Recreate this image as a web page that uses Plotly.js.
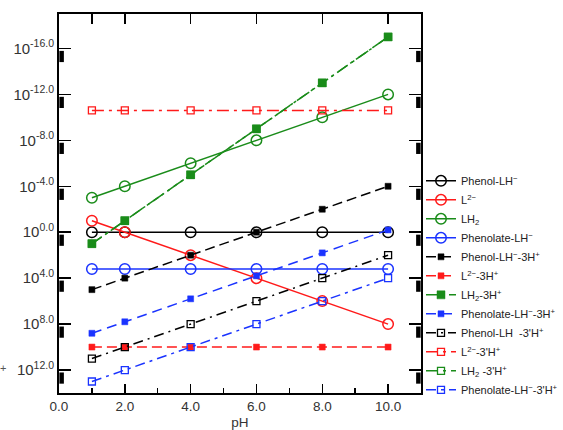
<!DOCTYPE html>
<html>
<head>
<meta charset="utf-8">
<script src="https://cdn.plot.ly/plotly-3.0.1.min.js"></script>
<style>html,body{margin:0;padding:0;background:#fff;}#chart{width:563px;height:430px;}</style>
</head>
<body>
<div id="chart"></div>
<script>
// ---- data (y values are exponents, axis reversed) ----
const pH = [1, 2, 4, 6, 8, 10];
const phenolLH        = [0, 0, 0, 0, 0, 0];
const L2              = [-1, 0, 2, 4, 6, 8];
const LH2             = [-3, -4, -6, -8, -10, -12];
const phenolateLH     = [3.2, 3.2, 3.2, 3.2, 3.2, 3.2];
const phenolLH_3H     = [5, 4, 2, 0, -2, -4];
const L2_3H           = [10, 10, 10, 10, 10, 10];
const LH2_3H          = [1, -1, -5, -9, -13, -17];
const phenolateLH_3H  = [8.8, 7.8, 5.8, 3.8, 1.8, -0.2];
const phenolLH_3pH    = [11, 10, 8, 6, 4, 2];
const L2_3pH          = [-10.6, -10.6, -10.6, -10.6, -10.6, -10.6];
const LH2_3pH         = [1, -1, -5, -9, -13, -17];
const phenolateLH_3pH = [13, 12, 10, 8, 6, 4];

const names = [
  'Phenol-LH<sup>−</sup>', 'L<sup>2−</sup>', 'LH<sub>2</sub>', 'Phenolate-LH<sup>−</sup>',
  'Phenol-LH<sup>−</sup>-3H<sup>+</sup>', 'L<sup>2−</sup>-3H<sup>+</sup>', 'LH<sub>2</sub>-3H<sup>+</sup>', 'Phenolate-LH<sup>−</sup>-3H<sup>+</sup>',
  'Phenol-LH  -3\'H<sup>+</sup>', 'L<sup>2−</sup>-3\'H<sup>+</sup>', 'LH<sub>2</sub> -3\'H<sup>+</sup>', 'Phenolate-LH<sup>−</sup>-3\'H<sup>+</sup>'
];

const xTickVals = [0, 2, 4, 6, 8, 10];
const xTickText = ['0.0', '2.0', '4.0', '6.0', '8.0', '10.0'];
const xTopTickVals = [1, 2, 4, 6, 8, 10];
const yTickVals = [-16, -12, -8, -4, 0, 4, 8, 12];
const yTickText = ['10<sup>-16.0</sup>', '10<sup>-12.0</sup>', '10<sup>-8.0</sup>', '10<sup>-4.0</sup>',
                   '10<sup>0.0</sup>', '10<sup>4.0</sup>', '10<sup>8.0</sup>', '10<sup>12.0</sup>'];
const edgeX = [0.08, 10.92];

// ---- styles ----
const BLACK = '#000000', RED = '#ff1a1a', GREEN = '#1a8c1a', BLUE = '#1a33ff';

function tr(y, name, color, symbol, size, dash, group, lw) {
  return {
    x: pH, y: y, name: name, type: 'scatter', mode: 'lines+markers',
    legendgroup: group,
    line: {color: color, width: 1.5, dash: dash},
    marker: {color: color, symbol: symbol, size: size, line: {color: color, width: lw || 1.5}},
    cliponaxis: false
  };
}

const traces = [
  tr(phenolLH,        names[0],  BLACK, 'circle-open', 10.5, 'solid', 'a'),
  tr(L2,              names[1],  RED,   'circle-open', 10.5, 'solid', 'a'),
  tr(LH2,             names[2],  GREEN, 'circle-open', 10.5, 'solid', 'a'),
  tr(phenolateLH,     names[3],  BLUE,  'circle-open', 10.5, 'solid', 'a'),
  tr(phenolLH_3H,     names[4],  BLACK, 'square', 6, '10px,5px', 'b', 0.5),
  tr(L2_3H,           names[5],  RED,   'square', 6, '10px,5px', 'b', 0.5),
  tr(LH2_3H,          names[6],  GREEN, 'square', 8, '12px,4px,3px,4px', 'b', 0.5),
  tr(phenolateLH_3H,  names[7],  BLUE,  'square', 6, '10px,6px', 'b', 0.5),
  tr(phenolLH_3pH,    names[8],  BLACK, 'square-open', 7, '10px,5px,2px,5px', 'c', 1.3),
  tr(L2_3pH,          names[9],  RED,   'square-open', 7, '12px,5px,3px,5px', 'c', 1.3),
  tr(LH2_3pH,         names[10], GREEN, 'square-open', 7, '12px,5px,3px,5px', 'c', 1.3),
  tr(phenolateLH_3pH, names[11], BLUE,  'square-open', 7, '10px,5px,3px,5px', 'c', 1.3)
];

// small black marks just below each y tick, on both frame edges
const edgeMarkX = [], edgeMarkY = [];
edgeX.forEach(function (ex) {
  yTickVals.forEach(function (v) { edgeMarkX.push(ex); edgeMarkY.push(v + 0.7); });
});
traces.push({
  x: edgeMarkX, y: edgeMarkY, xaxis: 'x2', yaxis: 'y', type: 'scatter', mode: 'markers',
  showlegend: false, hoverinfo: 'skip', cliponaxis: false,
  marker: {symbol: 'line-ns', size: 8, color: BLACK, line: {color: BLACK, width: 4.5}}
});

const FONT = 'Liberation Sans, Arial, sans-serif';
const layout = {
  width: 563, height: 430,
  margin: {l: 59, r: 142, t: 14, b: 37, pad: 0, autoexpand: false},
  paper_bgcolor: '#ffffff', plot_bgcolor: '#ffffff',
  font: {family: FONT, size: 13, color: '#333333'},
  showlegend: true,
  xaxis: {
    range: [0, 11], showgrid: false, zeroline: false,
    showline: true, linecolor: BLACK, linewidth: 2, mirror: false,
    tickmode: 'array', tickvals: xTickVals, ticktext: xTickText,
    ticks: 'inside', ticklen: 9, tickwidth: 1.5, tickcolor: BLACK,
    minor: {dtick: 1, tick0: 0, ticks: 'inside', ticklen: 5, tickwidth: 1.5, tickcolor: BLACK, showgrid: false},
    tickfont: {family: FONT, size: 13.5, color: '#333333'},
    title: {text: 'pH', font: {family: FONT, size: 13.5, color: '#333333'}, standoff: 5}
  },
  xaxis2: {
    overlaying: 'x', side: 'top', range: [0, 11], showgrid: false, zeroline: false,
    showline: true, linecolor: BLACK, linewidth: 2,
    tickmode: 'array', tickvals: xTopTickVals, showticklabels: false,
    ticks: 'inside', ticklen: 10, tickwidth: 1.5, tickcolor: BLACK
  },
  yaxis: {
    range: [14, -19], showgrid: false, zeroline: false,
    showline: true, linecolor: BLACK, linewidth: 2, mirror: 'ticks',
    tickmode: 'array', tickvals: yTickVals, ticktext: yTickText,
    ticks: 'inside', ticklen: 12, tickwidth: 1.5, tickcolor: BLACK,
    tickfont: {family: FONT, size: 15, color: '#333333'}
  },
  legend: {
    x: 1.0, xanchor: 'left', y: 0.598, yanchor: 'top',
    bgcolor: 'rgba(0,0,0,0)', borderwidth: 0,
    font: {family: FONT, size: 11, color: '#222222'},
    traceorder: 'grouped', tracegroupgap: 0, itemwidth: 30
  },
  annotations: [{
    text: '+', xref: 'paper', yref: 'paper', x: -0.155, y: 0.066,
    xanchor: 'center', yanchor: 'middle',
    showarrow: false, font: {family: FONT, size: 11, color: '#555555'}
  }]
};

Plotly.newPlot('chart', traces, layout, {staticPlot: true, displayModeBar: false});
</script>
</body>
</html>
